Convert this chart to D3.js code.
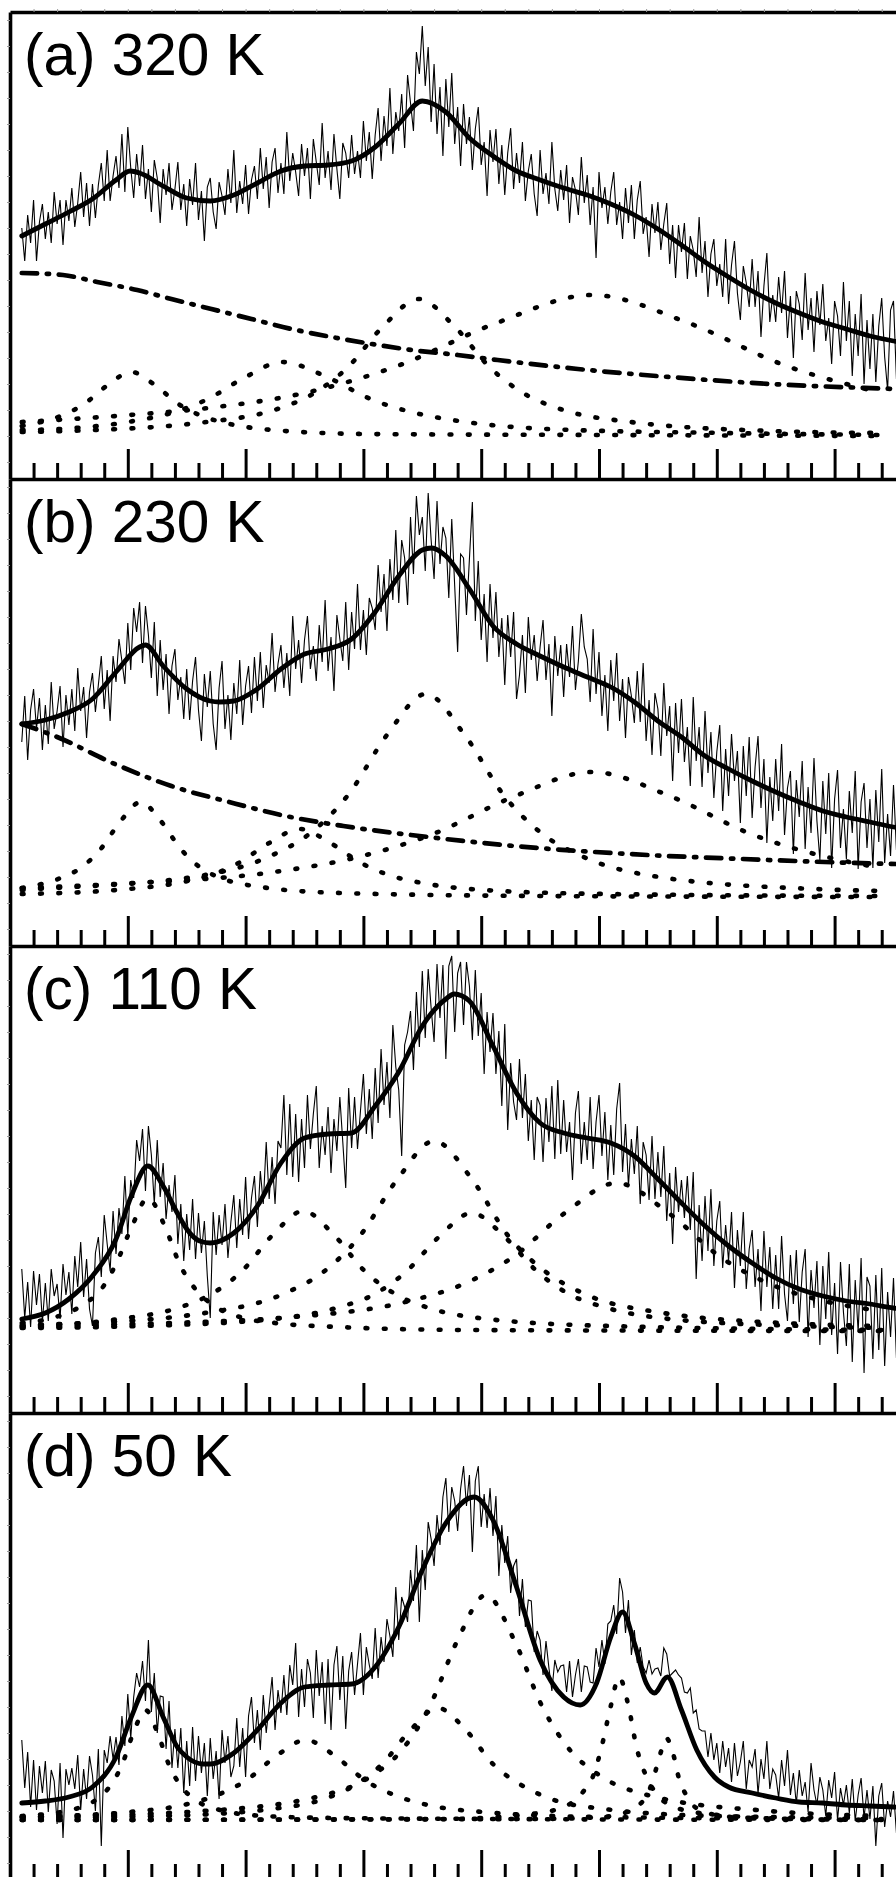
<!DOCTYPE html>
<html>
<head>
<meta charset="utf-8">
<script src="https://cdn.jsdelivr.net/npm/d3@7"></script>
<style>
  html, body { margin: 0; padding: 0; background: #fff; }
  svg { display: block; overflow: hidden; }
</style>
</head>
<body>
<svg id="chart" width="896" height="1877"></svg>
<script>
// ---------------- DATA ----------------
const panelLabels = ["(a) 320 K", "(b) 230 K", "(c) 110 K", "(d) 50 K"];
const majorTicks = [100, 200, 300, 400, 500, 600, 700];
const minorTicks = [20,40,60,80,120,140,160,180,220,240,260,280,320,340,360,380,420,440,460,480,520,540,560,580,620,640,660,680,720,740,760,780];
const yTickValues = [459,433,407,381,355,329,303,277,251,225,199,173,147,121,95,69,43,17];

// measured spectra: first point at shift 10, one point every 2.5
const shiftStart = 10, shiftStep = 2.5;

const countsA = [
251,218,264,236,279,218,257,275, 240,267,236,287,255,279,234,279, 258,291,252,276,307,262,296,253,
295,261,294,316,278,329,278,303, 323,291,345,287,352,311,281,325, 293,334,280,310,267,319,301,256,
310,284,316,269,290,317,269,295, 253,300,274,316,259,288,238,292, 301,267,250,297,283,264,310,276,
329,266,298,275,314,265,299,313, 280,331,290,322,271,317,331,286, 316,285,347,298,326,307,283,335,
303,331,280,340,317,294,356,301, 328,289,345,310,280,336,326,301, 344,305,328,301,358,318,347,300,
344,371,318,363,333,391,325,367, 348,385,331,404,376,348,427,405, 453,393,432,357,415,345,392,323,
400,352,406,335,372,313,375,335, 362,309,350,372,314,337,283,349, 317,350,295,334,284,326,351,290,
326,296,337,278,308,325,285,263, 329,285,306,275,337,290,268,309, 279,314,256,302,289,264,322,276,
304,254,292,221,307,271,292,255, 287,307,254,277,240,291,256,294, 240,279,298,245,262,222,275,246,
277,229,255,276,215,254,201,254, 227,256,200,243,229,202,262,206, 238,182,225,240,193,215,182,240,
175,214,238,186,159,213,196,172, 220,172,208,142,193,226,157,184, 157,202,166,208,141,183,121,188,
175,139,206,149,181,127,188,154, 195,138,161,115,178,163,123,197, 138,178,103,165,123,185,95,159,
110,165,97,153,181,122,89,169, 178,100,155,122
];
const countsB = [
204,250,186,236,257,217,248,196, 241,202,264,217,235,260,199,251, 221,257,215,278,235,259,208,254,
273,234,261,290,237,276,225,290, 264,307,285,262,323,276,338,314, 344,283,340,311,268,324,250,306,
256,292,232,280,297,246,269,227, 277,226,265,289,236,205,272,239, 275,222,196,258,285,217,251,206,
263,232,286,221,260,280,233,289, 245,294,238,281,263,313,254,282, 301,258,293,250,330,277,306,263,
306,330,277,300,265,321,284,346, 275,309,255,331,307,285,344,276, 334,297,362,296,336,291,348,338,
316,381,334,372,315,387,346,416, 343,406,388,341,429,372,450,411, 429,375,453,406,367,445,382,419,
408,348,427,360,294,392,388,331, 387,444,325,385,306,352,284,362, 308,354,289,328,261,331,289,334,
247,271,311,253,329,286,311,265, 299,326,266,302,230,310,270,301, 249,302,269,320,256,285,332,299,
287,244,317,252,294,230,271,215, 286,245,293,225,267,208,269,250, 223,275,224,283,205,246,191,253,
237,190,263,210,240,165,243,193, 247,184,219,160,249,185,219,159, 235,173,214,148,194,221,135,197,
150,212,165,195,123,200,150,209, 128,179,210,138,187,103,169,125, 187,135,202,111,158,175,92,166,
129,185,97,159,113,188,125,86, 165,112,173,78,147,176,98,137, 87,155,113,175,77,144,163,98,
147,78,156,104,177,83,132,90, 161,96,133,85
];
const countsC = [
144,95,131,86,142,108,139,91, 130,92,144,117,129,94,149,118, 141,99,157,126,171,116,154,104,
87,160,176,136,198,169,142,202, 159,205,179,237,177,233,215,273, 252,284,222,287,258,209,273,216,
250,194,228,201,238,169,209,152, 199,163,214,154,200,160,192,137, 95,201,158,198,168,209,155,191,
218,165,214,178,236,174,215,237, 186,242,209,271,214,256,209,272, 265,318,238,309,236,299,231,294,
245,318,264,299,327,245,287,258, 306,240,294,262,316,271,225,325, 265,316,264,302,339,279,324,274,
345,290,364,308,351,295,388,346, 323,257,368,381,402,343,421,366, 442,375,444,405,371,449,395,448,
354,447,457,381,440,451,388,451, 427,373,443,377,420,339,401,361, 400,339,382,307,389,283,350,311,
293,354,295,339,272,313,253,316, 308,251,315,271,327,254,333,259, 313,261,291,233,300,322,249,291,
253,316,244,291,318,257,301,233, 288,238,304,330,241,289,227,274, 239,287,209,271,258,213,277,214,
261,216,267,192,240,169,246,201, 233,195,237,183,241,134,208,152, 217,162,224,147,192,212,145,188,
152,201,125,183,147,201,124,164, 183,126,164,102,182,126,166,104, 158,104,177,119,92,158,109,163,
91,141,164,76,143,105,152,68, 147,94,161,78,130,59,151,101, 67,149,51,133,81,155,40,136,
127,54,138,63,145,47,121,76, 135,55,127,67
];
const countsD = [
140,92,128,73,120,70,114,87, 119,68,110,99,56,117,42,111, 95,112,91,125,70,111,81,124,
105,69,131,34,130,117,144,121, 143,115,164,134,186,142,183,207, 193,219,179,240,168,207,147,184,
183,131,179,112,151,112,152,87, 139,94,153,99,144,107,137,84, 142,101,129,81,150,117,144,103,
114,162,113,152,103,164,183,137, 170,130,185,147,174,203,150,190, 167,205,165,215,195,237,163,211,
173,221,207,162,230,184,218,156, 221,150,215,234,180,224,151,209, 228,185,216,247,185,233,215,201,
252,202,243,218,261,244,223,293, 240,283,273,258,310,279,335,258, 330,290,358,341,314,365,335,383,
402,348,393,379,349,391,414,374, 405,328,399,414,353,386,352,392, 344,384,304,355,317,344,287,314,
321,264,301,253,280,279,228,249, 240,205,239,212,189,220,208,214, 215,188,219,183,205,221,188,214,
213,198,197,232,213,240,216,256, 259,275,246,302,288,247,280,225, 250,217,233,213,207,220,206,211,
212,204,232,226,204,207,210,205, 202,188,187,192,167,170,151,149, 149,123,147,120,137,107,139,113,
132,98,137,104,118,139,91,120, 113,131,86,121,101,139,91,111, 105,82,120,94,130,85,107,76,
110,84,98,68,117,90,75,103, 90,64,100,82,108,60,92,75, 95,67,101,59,85,102,62,90,
61,94,34,84,97,53,79,63, 89,47,83,59
];

// fitted totals [shift, intensity]
const fitA = [[10,243],[30,255],[50,267],[70,280],[90,299],[102,308],[110,306],[130,293],[150,281],[170,278],[190,284],[210,296],[230,308],[250,313],[270,314],[290,318],[310,332],[330,355],[350,378],[370,367],[390,341],[410,323],[430,308],[450,299],[470,291],[490,284],[510,275],[530,264],[550,250],[570,234],[590,217],[610,202],[630,188],[650,176],[670,166],[690,157],[710,150],[730,143],[750,138],[770,134]];
const fitB = [[10,222],[30,226],[50,234],[70,247],[90,274],[110,299],[115,301],[130,280],[150,257],[170,245],[178,244],[190,245],[210,257],[230,277],[250,292],[270,297],[290,307],[310,334],[330,370],[350,396],[358,398],[370,390],[390,357],[410,320],[430,302],[450,290],[470,279],[490,269],[510,259],[530,244],[550,225],[570,209],[590,190],[610,177],[630,165],[650,154],[670,144],[690,135],[710,129],[730,124],[750,119],[770,116]];
const fitC = [[10,94],[30,100],[50,114],[70,137],[90,174],[103,217],[117,247],[130,227],[142,200],[150,184],[161,172],[170,170],[190,180],[210,207],[230,250],[250,275],[270,279],[290,280],[310,307],[330,341],[350,387],[370,414],[377,419],[390,412],[410,367],[430,320],[450,290],[470,280],[490,275],[510,270],[530,257],[550,234],[570,210],[590,187],[610,167],[630,150],[650,135],[670,124],[690,117],[710,112],[730,109],[750,105],[770,103]];
const fitD = [[10,77],[30,79],[50,83],[70,93],[90,123],[103,163],[117,195],[130,163],[142,133],[150,123],[164,116],[170,116],[190,127],[210,150],[230,177],[250,193],[270,195],[290,196],[310,213],[330,253],[350,310],[370,357],[394,383],[410,360],[430,293],[450,220],[470,183],[484,175],[498,197],[510,243],[520,268],[530,237],[540,197],[547,187],[558,203],[570,170],[583,130],[598,103],[610,93],[630,87],[650,82],[670,78],[690,77],[710,75],[730,74],[750,73],[770,72]];

// background components (dash-dot)
const bgA = [[10,206],[45,204],[74,197],[108,189],[137,180],[171,170],[205,160],[239,150],[273,142],[307,135],[341,129],[380,124],[414,119],[482,110],[549,103],[646,95],[752,90],[800,88]];
const bgB = [[10,222],[40,209],[89,182],[137,160],[186,144],[234,130],[283,120],[355,109],[428,100],[525,92],[622,87],[752,82],[800,81]];

// peak components (dotted)
const p1a = [[10,53],[23,56],[43,63],[63,75],[83,94],[103,107],[123,94],[143,75],[163,63],[183,56],[223,49],[303,45],[503,44],[740,43]];
const p2a = [[10,49],[42,50],[105,58],[137,66],[168,80],[200,102],[231,117],[269,102],[306,80],[344,66],[381,58],[456,50],[606,46],[740,44]];
const p3a = [[10,47],[47,48],[167,57],[227,70],[257,85],[287,112],[317,153],[347,180],[377,153],[407,112],[437,85],[467,70],[527,57],[647,48],[740,46]];
const p4a = [[10,57],[90,63],[168,71],[250,86],[331,114],[413,156],[494,184],[576,156],[657,114],[740,86]];

const p1b = [[10,58],[43,68],[60,78],[77,97],[94,125],[111,144],[128,125],[145,97],[162,78],[179,68],[213,59],[281,53],[451,50],[740,49]];
const p2b = [[10,52],[90,56],[142,63],[168,70],[194,83],[220,103],[246,117],[272,103],[298,83],[324,70],[350,63],[402,56],[506,52],[740,50]];
const p3b = [[10,56],[23,57],[155,69],[221,90],[254,112],[287,151],[320,211],[353,252],[386,211],[419,151],[452,112],[485,90],[551,69],[683,57],[740,55]];
const p4b = [[10,58],[89,62],[224,74],[292,88],[359,112],[427,149],[494,174],[562,149],[629,112],[697,88],[740,78]];

const p1c = [[10,90],[36,95],[63,109],[77,123],[90,149],[104,188],[117,215],[131,188],[144,149],[158,123],[171,109],[198,95],[225,90],[279,86],[387,83],[740,82]];
const p2c = [[10,87],[93,94],[145,106],[171,119],[197,142],[223,178],[249,202],[275,178],[301,142],[327,119],[353,106],[405,94],[509,87],[740,83]];
const p3c = [[10,88],[45,89],[171,101],[234,120],[266,141],[297,177],[329,234],[360,272],[392,234],[423,177],[455,141],[486,120],[549,101],[675,89],[740,87]];
const p4c = [[10,85],[112,87],[224,94],[280,106],[308,118],[336,141],[364,176],[392,200],[420,176],[448,141],[476,118],[504,106],[560,94],[672,87],[740,85]];
const p5c = [[10,86],[75,88],[251,97],[339,112],[383,128],[427,156],[471,200],[515,230],[559,200],[603,156],[647,128],[691,112],[740,102]];

const p1d = [[10,64],[55,71],[75,82],[85,94],[95,115],[105,148],[115,170],[125,148],[135,115],[145,94],[155,82],[175,71],[215,64],[275,62],[415,61],[740,60]];
const p2d = [[10,63],[101,68],[151,76],[176,85],[201,100],[226,124],[251,140],[276,124],[301,100],[326,85],[351,76],[401,68],[501,63],[740,61]];
const p3d = [[10,62],[128,64],[222,71],[269,82],[293,95],[316,116],[340,150],[363,172],[387,150],[410,116],[434,95],[457,82],[504,71],[598,64],[740,62]];
const p4d = [[10,63],[164,69],[260,83],[308,105],[332,129],[356,173],[380,240],[404,285],[428,240],[452,173],[476,129],[500,105],[548,83],[644,69],[740,64]];
const p5d = [[10,60],[367,61],[442,66],[472,74],[487,89],[495,104],[502,132],[510,174],[517,203],[525,174],[532,132],[540,104],[547,89],[562,74],[592,66],[667,61],[740,60]];
const p6d = [[10,60],[447,61],[502,63],[524,68],[535,76],[541,85],[546,101],[552,126],[557,142],[563,126],[568,101],[574,85],[579,76],[590,68],[612,63],[667,61],[740,60]];

// ---------------- DRAW ----------------
const panelH = 467, firstTop = 12, leftX = 10;
const panels = [
  { label: panelLabels[0], counts: countsA, fit: fitA, bg: bgA, peaks: [p1a, p2a, p3a, p4a] },
  { label: panelLabels[1], counts: countsB, fit: fitB, bg: bgB, peaks: [p1b, p2b, p3b, p4b] },
  { label: panelLabels[2], counts: countsC, fit: fitC, bg: null, peaks: [p1c, p2c, p3c, p4c, p5c] },
  { label: panelLabels[3], counts: countsD, fit: fitD, bg: null, peaks: [p1d, p2d, p3d, p4d, p5d, p6d] }
];

const svg = d3.select("#chart");
const x = d3.scaleLinear().domain([0, 800]).range([leftX, leftX + 942.4]);
const defs = svg.append("defs");

panels.forEach((p, i) => {
  const top = firstTop + i * panelH;
  const y = d3.scaleLinear().domain([0, panelH]).range([top + panelH, top]);
  const g = svg.append("g");

  defs.append("clipPath").attr("id", "clip" + i)
    .append("rect").attr("x", leftX).attr("y", top).attr("width", 960).attr("height", panelH);

  const plot = g.append("g").attr("clip-path", `url(#clip${i})`);
  const smooth = d3.line().x(d => x(d[0])).y(d => y(d[1])).curve(d3.curveMonotoneX);
  const raw = d3.line().x((d, j) => x(shiftStart + j * shiftStep)).y(d => y(d));

  p.peaks.forEach(pk => {
    plot.append("path").attr("d", smooth(pk))
      .attr("fill", "none").attr("stroke", "#000")
      .attr("stroke-width", 4.6).attr("stroke-linecap", "round")
      .attr("stroke-dasharray", "1.8 16.5");
  });
  if (p.bg) {
    plot.append("path").attr("d", smooth(p.bg))
      .attr("fill", "none").attr("stroke", "#000")
      .attr("stroke-width", 4.7).attr("stroke-linecap", "round")
      .attr("stroke-dasharray", "15.3 9.7 2.3 9.7");
  }
  plot.append("path").attr("d", raw(p.counts))
    .attr("fill", "none").attr("stroke", "#000").attr("stroke-width", 1.1)
    .attr("stroke-linejoin", "miter");
  plot.append("path").attr("d", smooth(p.fit))
    .attr("fill", "none").attr("stroke", "#000").attr("stroke-width", 4.8)
    .attr("stroke-linejoin", "round").attr("stroke-linecap", "round");

  // bottom axis with inward ticks
  const gx = g.append("g").attr("transform", `translate(0,${top + panelH})`);
  gx.call(d3.axisBottom(x).tickValues(majorTicks).tickSize(-30).tickSizeOuter(0).tickFormat(""));
  gx.select(".domain").attr("stroke-width", 3.6);
  gx.selectAll(".tick line").attr("stroke-width", 3);
  const gm = g.append("g").attr("transform", `translate(0,${top + panelH})`);
  gm.call(d3.axisBottom(x).tickValues(minorTicks).tickSize(-16).tickFormat(""));
  gm.select(".domain").remove();
  gm.selectAll(".tick line").attr("stroke-width", 3);

  // left axis
  const gy = g.append("g").attr("transform", `translate(${leftX},0)`);
  gy.call(d3.axisLeft(y).tickValues(yTickValues).tickSize(3).tickSizeOuter(0).tickFormat(""));
  gy.select(".domain").attr("stroke-width", 3.6);
  gy.selectAll(".tick line").attr("stroke", "#9a9a9a").attr("stroke-width", 1);

  if (i === 0) {
    const gt = g.append("g").attr("transform", `translate(0,${top})`);
    gt.call(d3.axisTop(x).tickValues(majorTicks.concat(minorTicks)).tickSize(3).tickSizeOuter(0).tickFormat(""));
    gt.select(".domain").attr("stroke-width", 3.6);
    gt.selectAll(".tick line").attr("stroke", "#9a9a9a").attr("stroke-width", 1);
  }

  g.append("text")
    .attr("x", 24).attr("y", top + 63)
    .attr("font-family", "Arial, 'Liberation Sans', sans-serif")
    .attr("font-size", 58.5).attr("fill", "#000")
    .text(p.label);
});
</script>
</body>
</html>
